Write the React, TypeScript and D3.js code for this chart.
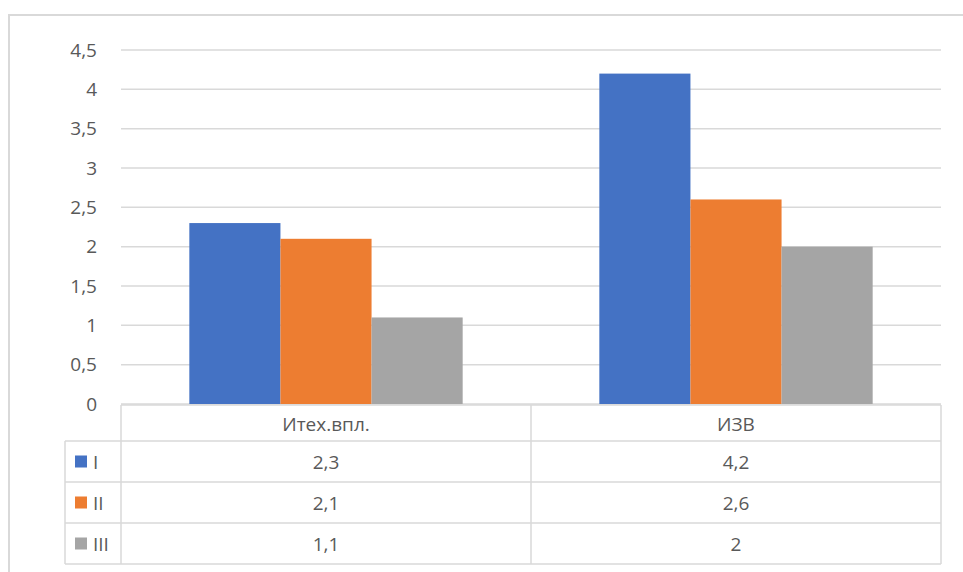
import React from "react";
import * as d3 from "d3";

const categories = ["Итех.впл.", "ИЗВ"];
const seriesNames = ["I", "II", "III"];
const seriesI = [2.3, 4.2];
const seriesII = [2.1, 2.6];
const seriesIII = [1.1, 2];
const tableTexts = [
  ["2,3", "4,2"],
  ["2,1", "2,6"],
  ["1,1", "2"],
];
const yTicks = [0, 0.5, 1, 1.5, 2, 2.5, 3, 3.5, 4, 4.5];
const yTickLabels = ["0", "0,5", "1", "1,5", "2", "2,5", "3", "3,5", "4", "4,5"];
const colors = ["#4472C4", "#ED7D31", "#A5A5A5"];

const W = 963;
const H = 572;
const plotLeft = 121;
const plotRight = 941;
const plotTop = 50;
const plotBottom = 404;
const tableTop = 405;
const headerBottom = 441;
const rowH = 41;
const legendLeft = 65;
const FONT = "'Open Sans', 'Liberation Sans', sans-serif";
const TXT = "#595959";
const GRID = "#D9D9D9";
const FS = 19;

export default function App() {
  const series = [seriesI, seriesII, seriesIII];
  const y = d3.scaleLinear().domain([0, 4.5]).range([plotBottom, plotTop]);
  const x0 = d3.scaleBand<string>().domain(categories).range([plotLeft, plotRight]).padding(0);
  const bw = x0.bandwidth();
  const barW = bw / 4.5;
  const gap = bw - 3 * barW;
  const x1 = d3
    .scaleBand<string>()
    .domain(seriesNames)
    .range([gap / 2, bw - gap / 2])
    .padding(0);

  const rowsY = seriesNames.map((_, i) => headerBottom + i * rowH);
  const tableBottom = headerBottom + seriesNames.length * rowH;

  return (
    <svg
      width={W}
      height={H}
      style={{ position: "absolute", left: 0, top: 0, background: "#fff" }}
      fontFamily={FONT}
    >
      <rect x={0} y={0} width={W} height={H} fill="#fff" />
      {/* outer frame */}
      <rect x={9} y={15} width={W + 20} height={H + 20} fill="none" stroke={GRID} strokeWidth={2} />

      {/* gridlines */}
      {yTicks.map((t) => (
        <line
          key={"g" + t}
          x1={plotLeft}
          x2={plotRight}
          y1={y(t)}
          y2={y(t)}
          stroke={GRID}
          strokeWidth={1.5}
        />
      ))}
      {/* y tick labels */}
      {yTicks.map((t, i) => (
        <text
          key={"t" + t}
          x={97}
          y={y(t)}
          dy="0.35em"
          textAnchor="end"
          fontSize={FS}
          fill={TXT}
        >
          {yTickLabels[i]}
        </text>
      ))}

      {/* bars */}
      {categories.map((c, ci) =>
        seriesNames.map((s, si) => {
          const v = series[si][ci];
          return (
            <rect
              key={c + s}
              x={(x0(c) as number) + (x1(s) as number)}
              y={y(v)}
              width={x1.bandwidth()}
              height={y(0) - y(v)}
              fill={colors[si]}
            />
          );
        })
      )}

      {/* data table */}
      <g stroke={GRID} strokeWidth={1.5} fill="none">
        <line x1={plotLeft} x2={plotRight} y1={tableTop} y2={tableTop} />
        <line x1={legendLeft} x2={plotRight} y1={headerBottom} y2={headerBottom} />
        {rowsY.map((ry, i) => (
          <line key={"r" + i} x1={legendLeft} x2={plotRight} y1={ry + rowH} y2={ry + rowH} />
        ))}
        <line x1={legendLeft} x2={legendLeft} y1={headerBottom} y2={tableBottom} />
        <line x1={plotLeft} x2={plotLeft} y1={tableTop} y2={tableBottom} />
        {categories.map((c, ci) => (
          <line
            key={"v" + ci}
            x1={(x0(c) as number) + bw}
            x2={(x0(c) as number) + bw}
            y1={tableTop}
            y2={tableBottom}
          />
        ))}
      </g>
      {categories.map((c) => (
        <text
          key={"h" + c}
          x={(x0(c) as number) + bw / 2}
          y={(tableTop + headerBottom) / 2 + 1}
          dy="0.35em"
          textAnchor="middle"
          fontSize={FS}
          fill={TXT}
        >
          {c}
        </text>
      ))}
      {seriesNames.map((s, si) => (
        <g key={"row" + s}>
          <rect x={75} y={rowsY[si] + rowH / 2 - 6} width={12} height={12} fill={colors[si]} />
          <text x={93} y={rowsY[si] + rowH / 2 + 1} dy="0.35em" fontSize={FS} fill={TXT}>
            {s}
          </text>
          {categories.map((c, ci) => (
            <text
              key={c}
              x={(x0(c) as number) + bw / 2}
              y={rowsY[si] + rowH / 2 + 1}
              dy="0.35em"
              textAnchor="middle"
              fontSize={FS}
              fill={TXT}
            >
              {tableTexts[si][ci]}
            </text>
          ))}
        </g>
      ))}
    </svg>
  );
}
